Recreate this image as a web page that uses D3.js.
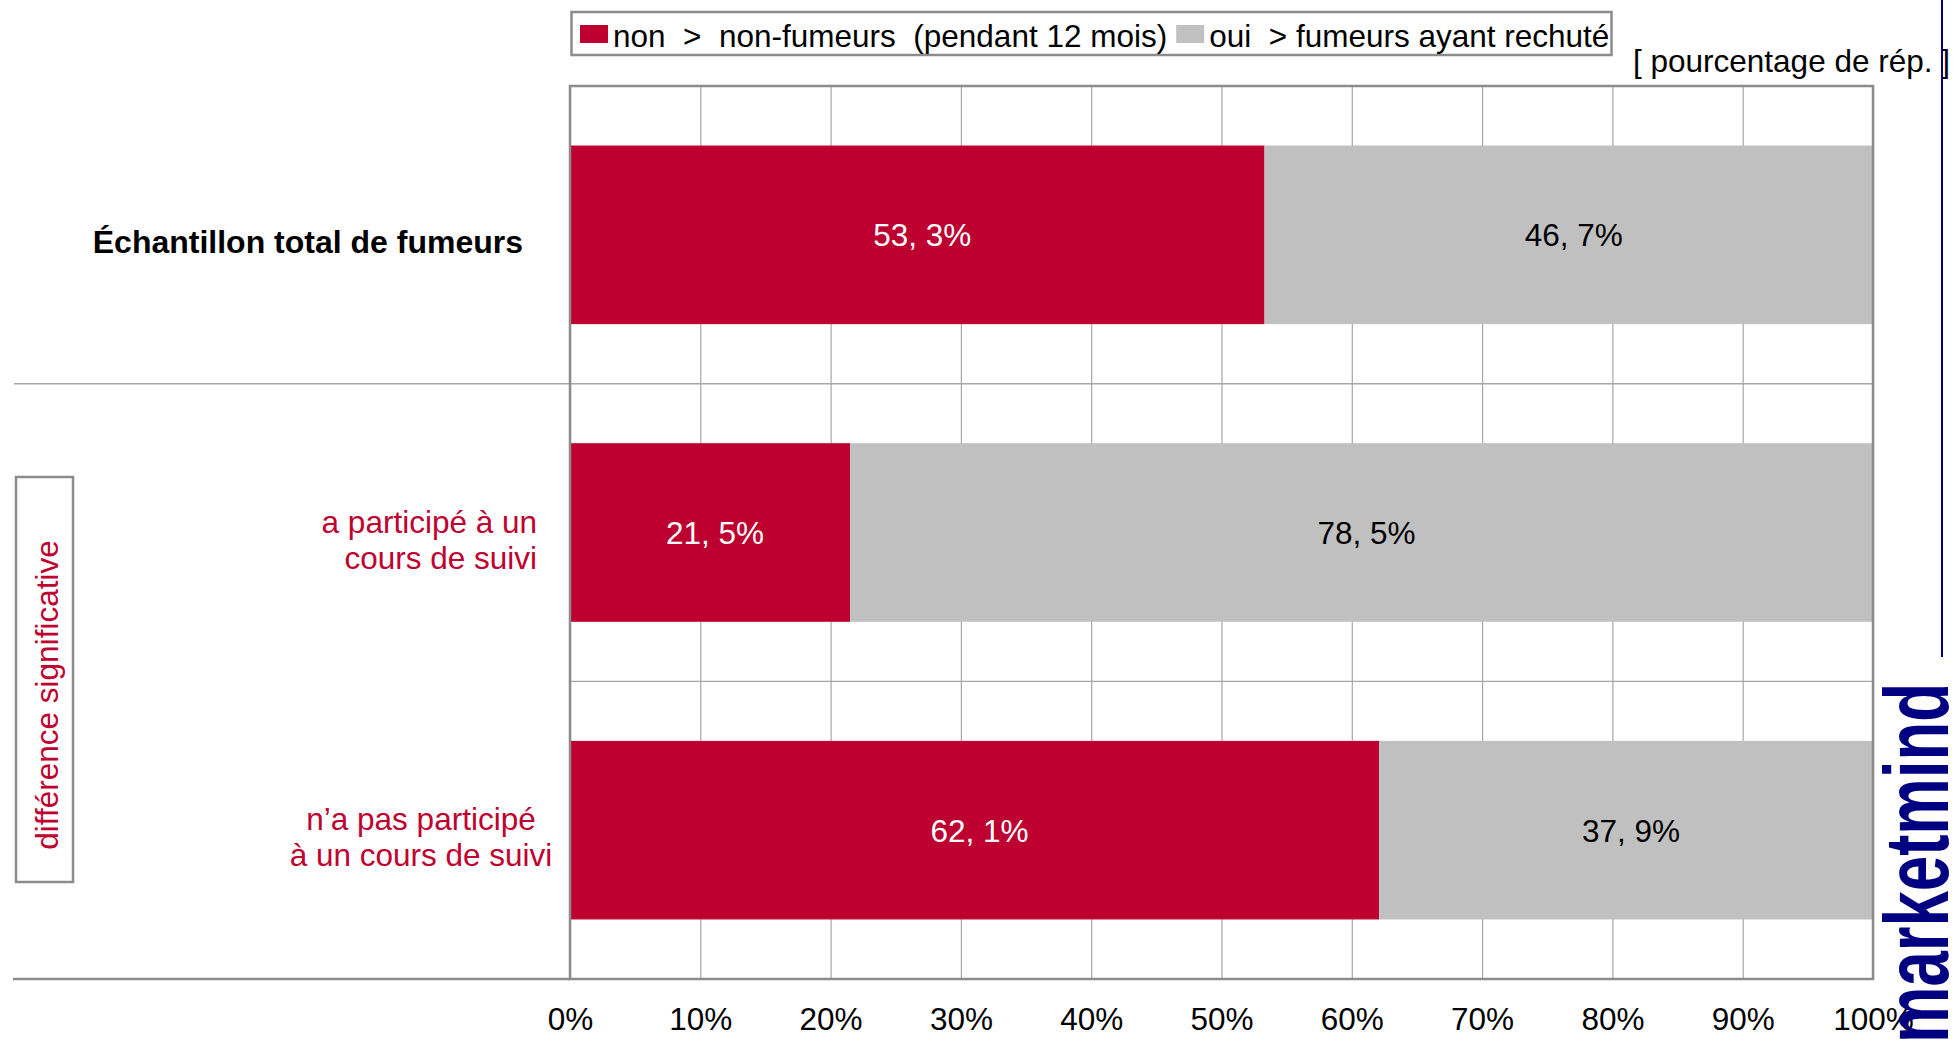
<!DOCTYPE html>
<html>
<head>
<meta charset="utf-8">
<script src="https://cdn.jsdelivr.net/npm/d3@7"></script>
<style>
  body { margin: 0; background: #fff; }
  svg { display: block; font-family: "Liberation Sans", Arial, sans-serif; }
  text { white-space: pre; }
</style>
</head>
<body>
<svg id="chart" width="1954" height="1045"></svg>
<script>
// data
const categories = [
  ['Échantillon total de fumeurs'],
  ['a participé à un', 'cours de suivi'],
  ['n’a pas participé', 'à un cours de suivi']
];
const seriesKeys = ['non', 'oui'];
const legendLabels = ['non  >  non-fumeurs  (pendant 12 mois)', 'oui  > fumeurs ayant rechuté'];
const nonValues = [53.3, 21.5, 62.1];
const ouiValues = [46.7, 78.5, 37.9];
const xTicks = [0, 10, 20, 30, 40, 50, 60, 70, 80, 90, 100];

const RED = '#bd0030';
const GREY = '#c0c0c0';
const NAVY = '#000080';
const fs = 31.5;

const svg = d3.select('#chart');
svg.append('rect').attr('width', 1954).attr('height', 1045).attr('fill', '#fff');

const pLeft = 570, pRight = 1873, pTop = 86, pBottom = 979;

const x = d3.scaleLinear().domain([0, 100]).range([pLeft, pRight]);
const y = d3.scaleBand().domain(d3.range(categories.length)).range([pTop, pBottom])
  .paddingInner(0.4).paddingOuter(0.2);
const colour = d3.scaleOrdinal().domain(seriesKeys).range([RED, GREY]);

const rows = categories.map((c, i) => ({ i, non: nonValues[i], oui: ouiValues[i] }));
const stacked = d3.stack().keys(seriesKeys)(rows);

// vertical gridlines
const grid = svg.append('g').attr('transform', `translate(0,${pBottom})`)
  .call(d3.axisBottom(x).tickValues(xTicks).tickSize(-(pBottom - pTop)).tickFormat(''));
grid.select('.domain').remove();
grid.selectAll('line').attr('stroke', '#a6a6a6').attr('stroke-width', 1.2);

// category boundary lines (inside plot and left separators)
const step = y.step();
svg.append('line').attr('x1', 14).attr('x2', pRight).attr('y1', pTop + step).attr('y2', pTop + step)
  .attr('stroke', '#a6a6a6').attr('stroke-width', 1.5);
svg.append('line').attr('x1', pLeft).attr('x2', pRight).attr('y1', pTop + 2 * step).attr('y2', pTop + 2 * step)
  .attr('stroke', '#a6a6a6').attr('stroke-width', 1.2);
svg.append('line').attr('x1', 13).attr('x2', pLeft).attr('y1', pBottom).attr('y2', pBottom)
  .attr('stroke', '#8c8c8c').attr('stroke-width', 2.5);

// bars
const layers = svg.append('g').selectAll('g').data(stacked).join('g')
  .attr('fill', d => colour(d.key));
layers.selectAll('rect').data(d => d).join('rect')
  .attr('x', d => x(d[0]))
  .attr('width', d => x(d[1]) - x(d[0]))
  .attr('y', d => y(d.data.i))
  .attr('height', y.bandwidth());

// value labels
const fmt = v => d3.format('.1f')(v).replace('.', ', ') + '%';
stacked.forEach(layer => {
  svg.append('g').selectAll('text').data(layer).join('text')
    .attr('x', d => (x(d[0]) + x(d[1])) / 2 + 5)
    .attr('y', d => y(d.data.i) + y.bandwidth() / 2)
    .attr('dy', '0.36em')
    .attr('text-anchor', 'middle')
    .style('font-size', fs + 'px')
    .attr('fill', layer.key === 'non' ? '#fff' : '#000')
    .text(d => fmt(d[1] - d[0]));
});

// plot border
svg.append('rect').attr('x', pLeft).attr('y', pTop).attr('width', pRight - pLeft).attr('height', pBottom - pTop)
  .attr('fill', 'none').attr('stroke', '#8c8c8c').attr('stroke-width', 2.5);

// x axis labels
const xAxis = svg.append('g').attr('transform', `translate(0,${pBottom})`)
  .call(d3.axisBottom(x).tickValues(xTicks).tickSize(0).tickPadding(29).tickFormat(d => d + '%'));
xAxis.select('.domain').remove();
xAxis.attr('font-family', null).attr('font-size', null);
xAxis.selectAll('text').style('font-size', fs + 'px').attr('fill', '#000');

// category labels
const labelPos = [
  { anchor: 'end', x: 523 },
  { anchor: 'end', x: 537 },
  { anchor: 'middle', x: 421 }
];
categories.forEach((lines, i) => {
  const cy = y(i) + y.bandwidth() / 2 + 7;
  const t = svg.append('text')
    .attr('text-anchor', labelPos[i].anchor)
    .style('font-size', (i === 0 ? 32 : fs) + 'px')
    .style('font-weight', i === 0 ? 'bold' : 'normal')
    .attr('fill', i === 0 ? '#000' : '#c0002f');
  lines.forEach((l, k) => {
    t.append('tspan')
      .attr('x', labelPos[i].x)
      .attr('y', cy + (k - (lines.length - 1) / 2) * 36)
      .attr('dy', '0.35em')
      .text(l);
  });
});

// "différence significative" box
svg.append('rect').attr('x', 16).attr('y', 477).attr('width', 57).attr('height', 405)
  .attr('fill', 'none').attr('stroke', '#8c8c8c').attr('stroke-width', 2.5);
svg.append('text')
  .attr('transform', 'translate(58,695) rotate(-90)')
  .attr('text-anchor', 'middle')
  .style('font-size', fs + 'px')
  .attr('fill', '#c0002f')
  .text('différence significative');

// legend
const legend = svg.append('g');
legend.append('rect').attr('x', 571.5).attr('y', 12).attr('width', 1040).attr('height', 43)
  .attr('fill', '#fff').attr('stroke', '#8c8c8c').attr('stroke-width', 2.5);
let lx = 580;
seriesKeys.forEach((k, i) => {
  legend.append('rect').attr('x', lx).attr('y', 25).attr('width', 28).attr('height', 18)
    .attr('fill', colour(k));
  const t = legend.append('text').attr('x', lx + 33).attr('y', 47)
    .style('font-size', fs + 'px').attr('fill', '#000').text(legendLabels[i]);
  lx = lx + 33 + t.node().getComputedTextLength() + 9;
});

svg.append('text').attr('x', 1633).attr('y', 72)
  .style('font-size', fs + 'px').attr('fill', '#000')
  .text('[ pourcentage de rép. ]');

// brand line + logo
svg.append('line').attr('x1', 1942).attr('x2', 1942).attr('y1', 0).attr('y2', 657)
  .attr('stroke', NAVY).attr('stroke-width', 2);
svg.append('text')
  .attr('transform', 'translate(1948,1043) rotate(-90)')
  .style('font-size', '90px').style('font-weight', 'bold')
  .attr('fill', NAVY)
  .attr('textLength', 360).attr('lengthAdjust', 'spacingAndGlyphs')
  .text('marketmind');
</script>
</body>
</html>
